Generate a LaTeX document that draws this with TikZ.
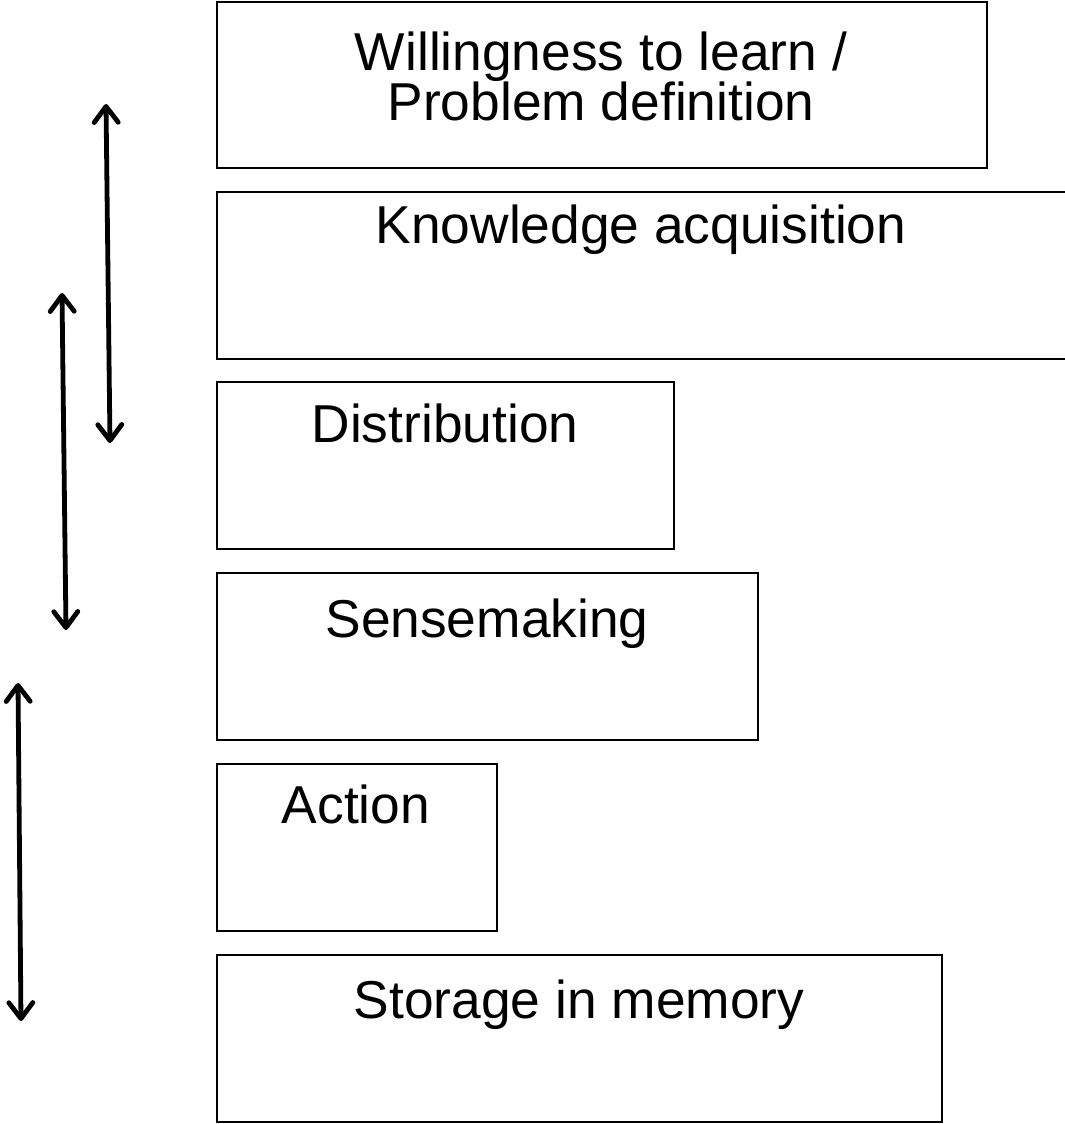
\documentclass[tikz,border=0pt]{standalone}
\usepackage{fontspec}
\setmainfont{Liberation Sans}
\usetikzlibrary{arrows.meta}

\begin{document}
\begin{tikzpicture}[x=0.75pt, y=-0.75pt,
  box/.style n args={2}{draw, line width=1.3pt, anchor=north west, inner sep=0pt,
    minimum width=#1*0.75pt, minimum height=#2*0.75pt},
  lbl/.style={font=\fontsize{40}{37.5}\selectfont, align=center, inner sep=0pt, anchor=base},
  twoway/.style={line width=3.6pt, {Straight Barb[length=12pt, width=18pt, round]}-{Straight Barb[length=12pt, width=18pt, round]}}]
  \useasboundingbox (0,0) rectangle (1064,1124);
  % stages
  \node[box={770}{166}] (willing) at (216,1) {};
  \node[box={850}{167}] (know) at (216,191) {};
  \node[box={457}{167}] (distr) at (216,381) {};
  \node[box={541}{167}] (sense) at (216,572) {};
  \node[box={280}{167}] (act) at (216,763) {};
  \node[box={725}{167}] (store) at (216,954) {};
  \node[lbl] (willingtxt) at (601,120) {Willingness to learn /\\Problem definition};
  \node[lbl] (knowtxt) at (641,243) {Knowledge acquisition};
  \node[lbl] (distrtxt) at (445,442) {Distribution};
  \node[lbl] (sensetxt) at (487,637) {Sensemaking};
  \node[lbl] (acttxt) at (356,823) {Action};
  \node[lbl] (storetxt) at (579,1018) {Storage in memory};
  % feedback arrows
  \coordinate (a1top) at (106,104);
  \coordinate (a1bot) at (110,443);
  \coordinate (a2top) at (62,293);
  \coordinate (a2bot) at (66,630);
  \coordinate (a3top) at (18,683);
  \coordinate (a3bot) at (21,1021);
  \draw[twoway] (a1top) -- (a1bot);
  \draw[twoway] (a2top) -- (a2bot);
  \draw[twoway] (a3top) -- (a3bot);
\end{tikzpicture}
\end{document}
